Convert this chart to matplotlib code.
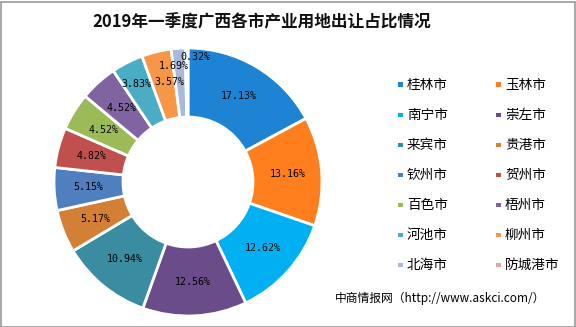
import matplotlib
matplotlib.use("Agg")
import matplotlib.pyplot as plt
from matplotlib.patches import Rectangle
import numpy as np

plt.rcParams['font.family'] = ['Noto Sans CJK SC', 'DejaVu Sans']

cities = ["桂林市", "玉林市", "南宁市", "崇左市", "来宾市", "贵港市", "钦州市",
          "贺州市", "百色市", "梧州市", "河池市", "柳州市", "北海市", "防城港市"]
shares = [17.13, 13.16, 12.62, 12.56, 10.94, 5.17, 5.15,
          4.82, 4.52, 4.52, 3.83, 3.57, 1.69, 0.32]
colors = ["#1f83d4", "#ff7f1e", "#00b0f0", "#6a4c8a", "#3a8ca0", "#d47f36", "#4f7fbf",
          "#c0504d", "#9bbb59", "#8064a2", "#4bacc6", "#f79646", "#a9b9d9", "#d9a9a9"]

W, H = 576, 327
fig = plt.figure(figsize=(W / 100, H / 100), dpi=100)
fig.patch.set_facecolor("white")

cx, cy, R = 188, 182, 134
ax = fig.add_axes([(cx - R) / W, (H - cy - R) / H, 2 * R / W, 2 * R / H])
wedges, _ = ax.pie(shares, colors=colors, startangle=90, counterclock=False,
                   radius=1.0, wedgeprops=dict(width=0.515, edgecolor="white", linewidth=2.0))
ax.set_xlim(-1, 1)
ax.set_ylim(-1, 1)
ax.set_aspect("equal")
ax.axis("off")

# labels at mid-angle (small top slices nudged apart, as in the reference)
cum = np.cumsum([0] + shares[:-1])
nudge = {10: (-0.05, 0.07), 11: (0.04, 0.02), 12: (-0.055, 0.12), 13: (0.06, 0.19)}
for i, (s, c0) in enumerate(zip(shares, cum)):
    mid = (c0 + s / 2) / 100.0 * 2 * np.pi
    r = 0.745
    x, y = r * np.sin(mid), r * np.cos(mid)
    if i in nudge:
        dx, dy = nudge[i]
        x += dx
        y += dy
    ax.text(x, y, f"{s:.2f}%", ha="center", va="center", fontsize=7.2,
            family=["DejaVu Sans Mono"], color="black")

# title
fig.text(262 / W, 1 - 22 / H, "2019年一季度广西各市产业用地出让占比情况",
         ha="center", va="center", fontsize=12, fontweight="bold", color="#111111")

# legend (manual, row-wise)
for i, (name, col) in enumerate(zip(cities, colors)):
    c, r = i % 2, i // 2
    x = 400 + c * 98
    y = 85 + r * 30
    fig.patches.append(Rectangle(((x - 2) / W, 1 - (y + 2) / H), 4.5 / W, 4.5 / H,
                                 transform=fig.transFigure, facecolor=col, edgecolor="none"))
    fig.text((x + 7) / W, 1 - y / H, name, ha="left", va="center", fontsize=9.8, color="black")

# source
fig.text(335 / W, 1 - 298 / H, "中商情报网（http://www.askci.com/）", ha="left", va="center",
         fontsize=8.5, color="black")

# border
fig.patches.append(Rectangle((0.5 / W, 0.5 / H), (W - 2) / W, (H - 2) / H, transform=fig.transFigure,
                             facecolor="none", edgecolor="#999999", linewidth=1.2))

fig.savefig("out.png", dpi=100)
